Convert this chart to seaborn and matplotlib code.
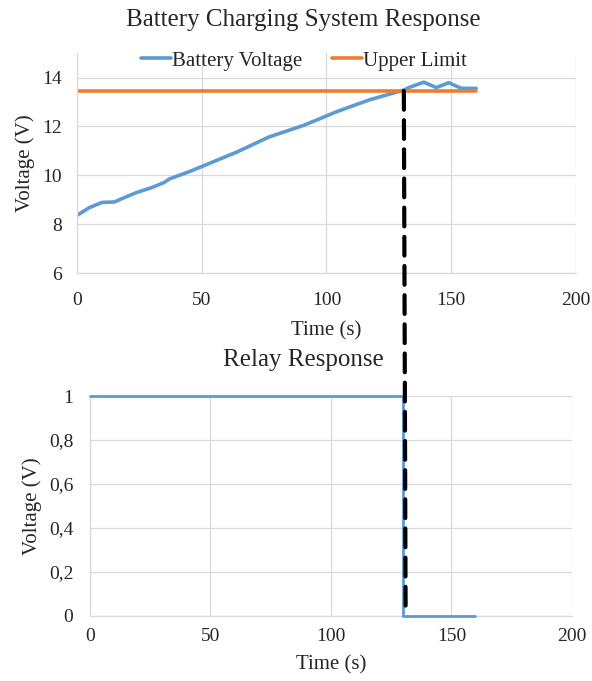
import matplotlib
matplotlib.use("Agg")
import matplotlib.pyplot as plt
from matplotlib.patches import ConnectionPatch
import seaborn as sns
import pandas as pd

# ---- data ----
batt_time = [0, 5, 10, 15, 19, 24, 30, 35, 37, 45, 51, 64, 77, 91, 104, 117, 131, 133, 139, 144, 149, 154, 160]
batt_volt = [8.36, 8.68, 8.89, 8.91, 9.09, 9.30, 9.50, 9.71, 9.85, 10.15, 10.40, 10.95, 11.57, 12.05, 12.60, 13.08, 13.49, 13.59, 13.81, 13.59, 13.79, 13.56, 13.56]
limit_time = [0, 160]
limit_volt = [13.45, 13.45]
relay_time = [0, 130, 130, 160]
relay_volt = [1, 1, 0, 0]
cutoff_time = 131
x_ticks = [0, 50, 100, 150, 200]
top_y_ticks = [6, 8, 10, 12, 14]
bottom_y_ticks = [0, 0.2, 0.4, 0.6, 0.8, 1]
bottom_y_labels = ["0", "0,2", "0,4", "0,6", "0,8", "1"]

sns.set_theme(style="white")
plt.rcParams["font.family"] = ["Liberation Serif", "DejaVu Serif"]

BLUE = "#5B9BD5"
ORANGE = "#ED7D31"
GRID = "#D9D9D9"
TXT = "#262626"
TICK_FS = 14
LAB_FS = 15

fig = plt.figure(figsize=(5.92, 6.81), dpi=100)
ax1 = fig.add_axes([0.130, 0.599, 0.843, 0.323])
ax2 = fig.add_axes([0.152, 0.0955, 0.814, 0.323])

df_b = pd.DataFrame({"t": batt_time, "v": batt_volt})
df_l = pd.DataFrame({"t": limit_time, "v": limit_volt})
df_r = pd.DataFrame({"t": relay_time, "v": relay_volt})

sns.lineplot(data=df_b, x="t", y="v", ax=ax1, color=BLUE, lw=2.6, label="Battery Voltage",
             sort=False, estimator=None)
sns.lineplot(data=df_l, x="t", y="v", ax=ax1, color=ORANGE, lw=2.6, label="Upper Limit",
             sort=False, estimator=None)
sns.lineplot(data=df_r, x="t", y="v", ax=ax2, color=BLUE, lw=2.0, sort=False,
             estimator=None, legend=False, clip_on=False, zorder=5)

for ax in (ax1, ax2):
    ax.set_xlim(0, 200)
    ax.set_xticks(x_ticks)
    ax.grid(True, color=GRID, lw=0.9)
    ax.set_axisbelow(True)
    for s in ("top", "right"):
        ax.spines[s].set_visible(False)
    for s in ("left", "bottom"):
        ax.spines[s].set_color(GRID)
        ax.spines[s].set_linewidth(0.9)
    ax.tick_params(length=0, labelsize=TICK_FS, colors=TXT)

ax1.set_ylim(6, 15)
ax1.set_yticks(top_y_ticks)
ax1.tick_params(axis="x", pad=13.5)
ax1.tick_params(axis="y", pad=11)
ax1.set_xlabel("Time (s)", fontsize=LAB_FS, color=TXT, labelpad=9)
ax1.set_ylabel("Voltage (V)", fontsize=LAB_FS, color=TXT, labelpad=5)

ax2.set_ylim(0, 1)
ax2.set_yticks(bottom_y_ticks)
ax2.set_yticklabels(bottom_y_labels)
ax2.tick_params(axis="x", pad=9)
ax2.tick_params(axis="y", pad=12)
ax2.set_xlabel("Time (s)", fontsize=LAB_FS, color=TXT, labelpad=7)
ax2.set_ylabel("Voltage (V)", fontsize=LAB_FS, color=TXT, labelpad=5)

leg = ax1.legend(loc="center", bbox_to_anchor=(0.455, 0.965), ncol=2, frameon=False,
                 fontsize=15, handlelength=1.45, handletextpad=0.05, columnspacing=1.4,
                 borderpad=0, borderaxespad=0)
for t in leg.get_texts():
    t.set_color(TXT)

fig.text(0.512, 0.971, "Battery Charging System Response", ha="center", va="center", fontsize=18, color=TXT)
fig.text(0.512, 0.471, "Relay Response", ha="center", va="center", fontsize=18, color=TXT)

con = ConnectionPatch(xyA=(cutoff_time, limit_volt[0]), coordsA=ax1.transData,
                      xyB=(cutoff_time, 0), coordsB=ax2.transData,
                      color="black", lw=3.0, linestyle=(0, (4.5, 2.5)), zorder=10)
fig.add_artist(con)

fig.savefig("out.png", dpi=100)
